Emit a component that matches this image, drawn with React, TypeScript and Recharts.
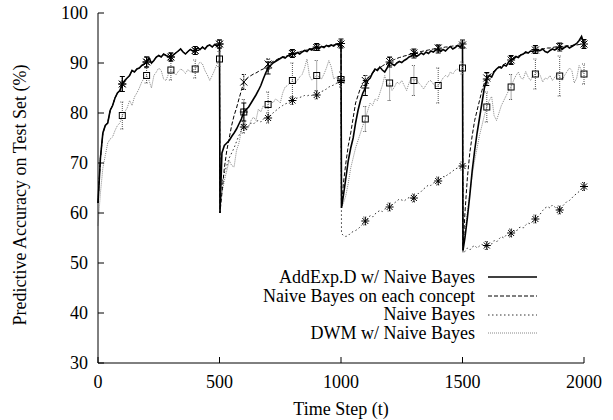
import React from 'react';
import { ComposedChart, Line, Scatter, XAxis, YAxis, ErrorBar, Legend } from 'recharts';

const FONT = '"Liberation Serif", "Times New Roman", serif';

const X_TICKS = [0, 500, 1000, 1500, 2000];
const Y_TICKS = [30, 40, 50, 60, 70, 80, 90, 100];
const X_LABEL = 'Time Step (t)';
const Y_LABEL = 'Predictive Accuracy on Test Set (%)';
const SERIES_NAMES = [
  'AddExp.D w/ Naive Bayes',
  'Naive Bayes on each concept',
  'Naive Bayes',
  'DWM w/ Naive Bayes',
];

// concept drift points: a sample every 10 steps, plus the trough just after each drift
const DRIFTS = [500, 1000, 1500];
const MARK_T = [100, 200, 300, 400, 500, 600, 700, 800, 900, 1000, 1100, 1200, 1300, 1400, 1500, 1600, 1700, 1800, 1900, 2000];

// concept 1 (t = 0..500): all NB-based learners coincide
const CONCEPT1 = [62, 71, 76, 77.5, 78, 80.5, 81.5, 83, 84, 84.5,
  85.8, 86.5, 87, 87.5, 88.5, 88.2, 88.8, 89, 89.5, 89.8,
  90.2, 91, 90, 90.5, 91.2, 91.5, 91.2, 91.8, 91.5, 91.3,
  91.2, 91.6, 92, 92.4, 92.8, 92.2, 91.8, 92.3, 92.7, 92.4,
  92.5, 93, 92.7, 93.2, 92.8, 93.4, 93.6, 93.2, 93.7, 93.4,
  93.8];

const ADDEXP = [...CONCEPT1,
  60, 72, 73.5, 74, 74.5, 75.3, 76, 76.8, 77.8, 78.8,
  80.2, 80.7, 81.2, 82, 82.8, 83.6, 84.5, 85.5, 86.8, 88,
  89, 89.5, 90, 90.3, 90.6, 90.9, 91.2, 91, 91.4, 91.6,
  91.9, 91.7, 92.1, 91.8, 92.2, 92.5, 92.3, 92.8, 92.6, 93,
  93.2, 92.9, 93.3, 93.1, 93.5, 93.3, 93.6, 93.4, 93.8, 93.6,
  93.9,
  61, 63.5, 67, 70.5, 73, 75, 78, 80.5, 82.5, 84,
  85, 86.5, 87, 88, 88.8, 88.5, 89.2, 88.6, 88.2, 89,
  90.2, 89.8, 89.5, 90, 90.3, 90.1, 90.5, 90.8, 91.2, 91.4,
  91.9, 91.3, 91.6, 92, 91.7, 92.2, 91.9, 92.4, 92.2, 92.6,
  92.8, 92.3, 92.7, 92.4, 92.9, 93.3, 92.8, 93.1, 93.5, 93.2,
  93.8,
  52.5, 55, 59, 63.5, 68.5, 72.5, 76, 79, 82, 85,
  86.8, 87.5, 87.2, 88.2, 88.8, 89.2, 89, 89.6, 89.4, 90.2,
  90.6, 90.8, 91.3, 91.1, 91.6, 91.8, 92.2, 92, 92.4, 92.3,
  92.7, 92.4, 92.5, 92.8, 92.3, 92.1, 92.5, 92.8, 92.6, 93,
  93.2, 92.8, 93.1, 93.4, 93, 93.3, 93.6, 93.9, 94.5, 95.3,
  93.8];

const NB_EACH = [...CONCEPT1,
  60, 64, 69, 72.5, 75, 77.5, 79.5, 81, 82.8, 84.5,
  86.2, 86.8, 87.2, 87.5, 87.8, 88, 88.3, 88.6, 88.8, 89.2,
  89.8, 90, 90.3, 90.5, 90.8, 91, 91.2, 91.3, 91.5, 91.7,
  91.9, 92, 92.1, 92.2, 92.4, 92.5, 92.6, 92.8, 92.9, 93,
  93.1, 93.2, 93.3, 93.3, 93.4, 93.5, 93.6, 93.6, 93.7, 93.8,
  93.8,
  61, 66, 70, 73.5, 76, 79, 82, 83.5, 85, 85.8,
  86.5, 87, 87.5, 88, 88.4, 88.8, 89.1, 89.4, 89.7, 90,
  90.3, 90.5, 90.7, 90.9, 91.1, 91.2, 91.4, 91.5, 91.7, 91.8,
  92, 92.1, 92.2, 92.3, 92.4, 92.5, 92.6, 92.7, 92.8, 92.9,
  93, 93, 93.1, 93.2, 93.2, 93.3, 93.4, 93.4, 93.5, 93.5,
  93.6,
  52.5, 60, 67, 72, 75.5, 78.5, 80.5, 82.5, 84.5, 86,
  87, 87.5, 88, 88.4, 88.8, 89.1, 89.4, 89.7, 90, 90.3,
  90.6, 90.9, 91.1, 91.4, 91.6, 91.8, 92, 92.1, 92.3, 92.4,
  92.6, 92.7, 92.8, 92.8, 92.9, 93, 93, 93.1, 93.2, 93.2,
  93.3, 93.3, 93.4, 93.4, 93.5, 93.5, 93.6, 93.6, 93.7, 93.7,
  93.8];

const NB = [...CONCEPT1,
  64, 66, 68, 69.5, 71, 72, 73, 74.3, 75.5, 76.5,
  77.2, 76.8, 77.5, 78, 77.8, 78.3, 78.5, 78.2, 78.8, 79,
  79, 79.6, 80, 80.4, 80.8, 81.2, 81.5, 81.8, 82, 82.3,
  82.5, 82.8, 83, 83.1, 83.3, 83.5, 83.4, 83.6, 83.5, 83.7,
  83.6, 84, 84.3, 84.5, 84.8, 85.2, 85.4, 85.6, 85.9, 86.2,
  86.5,
  55.9, 55.5, 55.3, 55.5, 56, 56.3, 56.5, 56.8, 57.3, 57.8,
  58.4, 58.7, 59.5, 59.2, 59.8, 60.2, 60.5, 60.3, 60.8, 61,
  61.2, 61.6, 62, 62.4, 62.8, 62.6, 62.4, 62.8, 63.1, 62.9,
  63, 63.5, 64, 64.3, 64.8, 65.2, 65.6, 65.5, 66, 66.2,
  66.4, 66.8, 67.3, 67.2, 67.8, 68, 68.4, 68.8, 69, 69.2,
  69.4,
  52, 52.3, 53, 52.6, 53.2, 53.5, 53, 53.4, 53.8, 53.3,
  53.5, 54, 53.8, 54.5, 54.2, 54.8, 55.3, 55, 55.6, 55.4,
  56, 56.5, 56.2, 57, 57.2, 57, 57.6, 58, 57.8, 58.4,
  58.8, 59.3, 59.8, 60.5, 61, 61.3, 61, 61.6, 61.2, 60.8,
  60.6, 61.3, 61.8, 62.3, 62.5, 63, 63.5, 63.9, 64.3, 64.8,
  65.3];

const DWM = [
  57.5, 64, 69, 71.5, 74, 74.8, 75.2, 76.5, 77.5, 78,
  79.5, 80.2, 81, 82.5, 81.5, 83.2, 84, 85, 86.2, 87,
  87.5, 86.5, 85, 87.5, 88.2, 89, 88.5, 86.8, 86.5, 87.8,
  88.6, 88.2, 87.6, 88.3, 88.8, 88.5, 87.9, 88.7, 88.2, 88.6,
  88.8, 89.5, 90.2, 89.8, 88.5, 87.6, 86.5, 87.5, 88.6, 89.8,
  90.8,
  61.5, 64, 66.5, 68.5, 70.5, 69.5, 69.2, 72.5, 74, 76.5,
  80.2, 76.5, 77.2, 78.5, 79.2, 78.5, 80.8, 80.2, 81.5, 80.8,
  81.7, 82.5, 82, 82.8, 82.5, 82, 84, 85.2, 85.5, 86,
  86.5, 85.8, 86.5, 87.2, 87.7, 89, 90.8, 87.5, 86.5, 87,
  87.5, 87.2, 86.8, 87.8, 89, 90.5, 89.2, 86.8, 87.2, 86.5,
  86.7,
  61, 62, 63.5, 66, 69, 71, 73, 74.5, 76, 77.5,
  78.8, 80.5, 82, 81.5, 82.8, 82.5, 84, 85.5, 87.5, 85.5,
  86, 84.5, 85.2, 86.2, 85.8, 86.5, 85.5, 84.5, 86, 87.1,
  86.5, 86.8, 86, 85.5, 84.8, 85.6, 86.3, 86.5, 85.8, 85.2,
  85.5, 86.2, 87, 87.5, 87.2, 88.2, 87.8, 88.5, 88.8, 88.3,
  89,
  53, 56, 60, 64, 67.5, 70.5, 73, 75.5, 77.5, 79.5,
  81.2, 82.5, 83.3, 79.5, 78.5, 80, 81.5, 82.5, 83.5, 84.5,
  85.2, 86.5, 87.5, 88.2, 87, 86.8, 88.3, 87.2, 86.5, 87.5,
  87.8, 88.2, 87.5, 86.2, 87, 86.8, 87.5, 86.5, 87.2, 87.8,
  87.4, 86.5, 87.5, 88.3, 89, 88.5, 86, 87, 89.5, 88.5,
  87.8];

// error-bar half widths at MARK_T
const ADDEXP_ERR = [1.5, 1, 0.8, 0.8, 0.8, 1.8, 1.2, 0.8, 0.7, 0.9, 1.5, 1, 0.9, 0.8, 0.8, 1.3, 0.9, 0.8, 0.8, 0.9];
const NB_EACH_ERR = [1.5, 1, 0.8, 0.8, 0.8, 1.5, 1, 0.6, 0.6, 0.6, 1, 0.8, 0.6, 0.6, 0.6, 1, 0.7, 0.6, 0.6, 0.6];
const NB_ERR = [1.5, 1, 0.8, 0.8, 0.8, 1.2, 1, 0.8, 0.8, 0.8, 0.8, 0.8, 0.8, 0.8, 0.8, 0.8, 0.8, 0.8, 0.8, 0.8];
const DWM_ERR = [2.7, 1.5, 2, 1.8, 1.5, 2.5, 2.5, 3.5, 3, 1.5, 2.5, 3.5, 3, 3.5, 1.2, 3, 2.5, 3, 4, 2];

const TIMES: number[] = [];
for (let t = 0; t <= 500; t += 10) TIMES.push(t);
DRIFTS.forEach((d) => {
  TIMES.push(d + 2);
  for (let t = d + 10; t <= d + 500; t += 10) TIMES.push(t);
});

const rows = TIMES.map((t, i) => ({ t, a: ADDEXP[i], d: NB_EACH[i], n: NB[i], w: DWM[i] }));

const marks = (vals: number[], errs: number[]) =>
  MARK_T.map((t, k) => ({ t, v: vals[TIMES.indexOf(t)], e: errs[k] }));

const addMarks = marks(ADDEXP, ADDEXP_ERR);
const eachMarks = marks(NB_EACH, NB_EACH_ERR);
const nbMarks = marks(NB, NB_ERR);
const dwmMarks = marks(DWM, DWM_ERR);

const STYLES = [
  { stroke: '#000', width: 1.6, dash: undefined as string | undefined },
  { stroke: '#000', width: 1, dash: '4 2' },
  { stroke: '#333', width: 1, dash: '1.5 2.5' },
  { stroke: '#888', width: 1, dash: '1 1' },
];

const Plus = (p: any) => (
  <path d={`M${p.cx - 4},${p.cy}h8M${p.cx},${p.cy - 4}v8`} stroke="#000" strokeWidth={1} fill="none" />
);
const Cross = (p: any) => (
  <path d={`M${p.cx - 3.5},${p.cy - 3.5}l7,7M${p.cx - 3.5},${p.cy + 3.5}l7,-7`} stroke="#000" strokeWidth={1} fill="none" />
);
const Star = (p: any) => (
  <path
    d={`M${p.cx - 4},${p.cy}h8M${p.cx},${p.cy - 4}v8M${p.cx - 3},${p.cy - 3}l6,6M${p.cx - 3},${p.cy + 3}l6,-6`}
    stroke="#000" strokeWidth={1} fill="none" />
);
const Square = (p: any) => (
  <rect x={p.cx - 3} y={p.cy - 3} width={6} height={6} stroke="#000" strokeWidth={1} fill="none" />
);

const LegendBox = () => (
  <div style={{ fontFamily: FONT, fontSize: 18, color: '#000' }}>
    {SERIES_NAMES.map((name, i) => (
      <div key={name} style={{ display: 'flex', alignItems: 'center', height: 18.7 }}>
        <span style={{ width: 320, textAlign: 'right', whiteSpace: 'nowrap', lineHeight: '18.7px' }}>{name}</span>
        <svg width={64} height={10} style={{ display: 'block' }}>
          <line x1={13} x2={62} y1={5} y2={5} stroke={STYLES[i].stroke}
            strokeWidth={STYLES[i].width} strokeDasharray={STYLES[i].dash} />
        </svg>
      </div>
    ))}
  </div>
);

const tickStyle = { fill: '#000', fontSize: 18, fontFamily: FONT };

export default function App() {
  return (
    <div style={{ position: 'absolute', left: 0, top: 0, background: '#fff' }}>
      <ComposedChart width={613} height={420} data={rows} margin={{ top: 13, right: 29, left: 0, bottom: 0 }}>
        <XAxis xAxisId="b" dataKey="t" type="number" domain={[0, 2000]} ticks={X_TICKS} height={57}
          tickSize={-6} tickMargin={18} stroke="#000" tick={tickStyle} interval={0}
          label={{
            content: () => (
              <text x={341} y={415} textAnchor="middle" fontFamily={FONT} fontSize={18} fill="#000">{X_LABEL}</text>
            ),
          }} />
        <XAxis xAxisId="top" dataKey="t" type="number" domain={[0, 2000]} ticks={X_TICKS} orientation="top"
          height={0} tickSize={-6} tick={false} stroke="#000" />
        <YAxis yAxisId="l" type="number" domain={[30, 100]} ticks={Y_TICKS} width={98} tickSize={-6}
          tickMargin={16} stroke="#000" tick={tickStyle} interval={0}
          label={{
            content: () => (
              <text x={26} y={195} transform="rotate(-90 26 195)" textAnchor="middle" fontFamily={FONT}
                fontSize={18} fill="#000">{Y_LABEL}</text>
            ),
          }} />
        <YAxis yAxisId="r" type="number" domain={[30, 100]} ticks={Y_TICKS} orientation="right" width={0}
          tickSize={-6} tick={false} stroke="#000" />

        <Line xAxisId="top" yAxisId="r" dataKey="a" stroke="none" dot={false} isAnimationActive={false} legendType="none" />

        <Line xAxisId="b" yAxisId="l" dataKey="w" type="linear" stroke={STYLES[3].stroke} strokeWidth={STYLES[3].width}
          strokeDasharray={STYLES[3].dash} dot={false} isAnimationActive={false} />
        <Line xAxisId="b" yAxisId="l" dataKey="n" type="linear" stroke={STYLES[2].stroke} strokeWidth={STYLES[2].width}
          strokeDasharray={STYLES[2].dash} dot={false} isAnimationActive={false} />
        <Line xAxisId="b" yAxisId="l" dataKey="d" type="linear" stroke={STYLES[1].stroke} strokeWidth={STYLES[1].width}
          strokeDasharray={STYLES[1].dash} dot={false} isAnimationActive={false} />
        <Line xAxisId="b" yAxisId="l" dataKey="a" type="linear" stroke={STYLES[0].stroke} strokeWidth={STYLES[0].width}
          dot={false} isAnimationActive={false} />

        <Scatter xAxisId="b" yAxisId="l" data={dwmMarks} dataKey="v" shape={Square} isAnimationActive={false}>
          <ErrorBar dataKey="e" direction="y" width={2} stroke="#555" strokeWidth={1} strokeDasharray="1 1" />
        </Scatter>
        <Scatter xAxisId="b" yAxisId="l" data={nbMarks} dataKey="v" shape={Star} isAnimationActive={false}>
          <ErrorBar dataKey="e" direction="y" width={2} stroke="#333" strokeWidth={1} strokeDasharray="1 1" />
        </Scatter>
        <Scatter xAxisId="b" yAxisId="l" data={eachMarks} dataKey="v" shape={Cross} isAnimationActive={false}>
          <ErrorBar dataKey="e" direction="y" width={2} stroke="#000" strokeWidth={1} strokeDasharray="2 1" />
        </Scatter>
        <Scatter xAxisId="b" yAxisId="l" data={addMarks} dataKey="v" shape={Plus} isAnimationActive={false}>
          <ErrorBar dataKey="e" direction="y" width={2.5} stroke="#000" strokeWidth={1} />
        </Scatter>

        <Legend layout="vertical" align="center" verticalAlign="middle"
          wrapperStyle={{ left: 155, top: 268, width: 390 }} content={() => <LegendBox />} />
      </ComposedChart>
    </div>
  );
}
